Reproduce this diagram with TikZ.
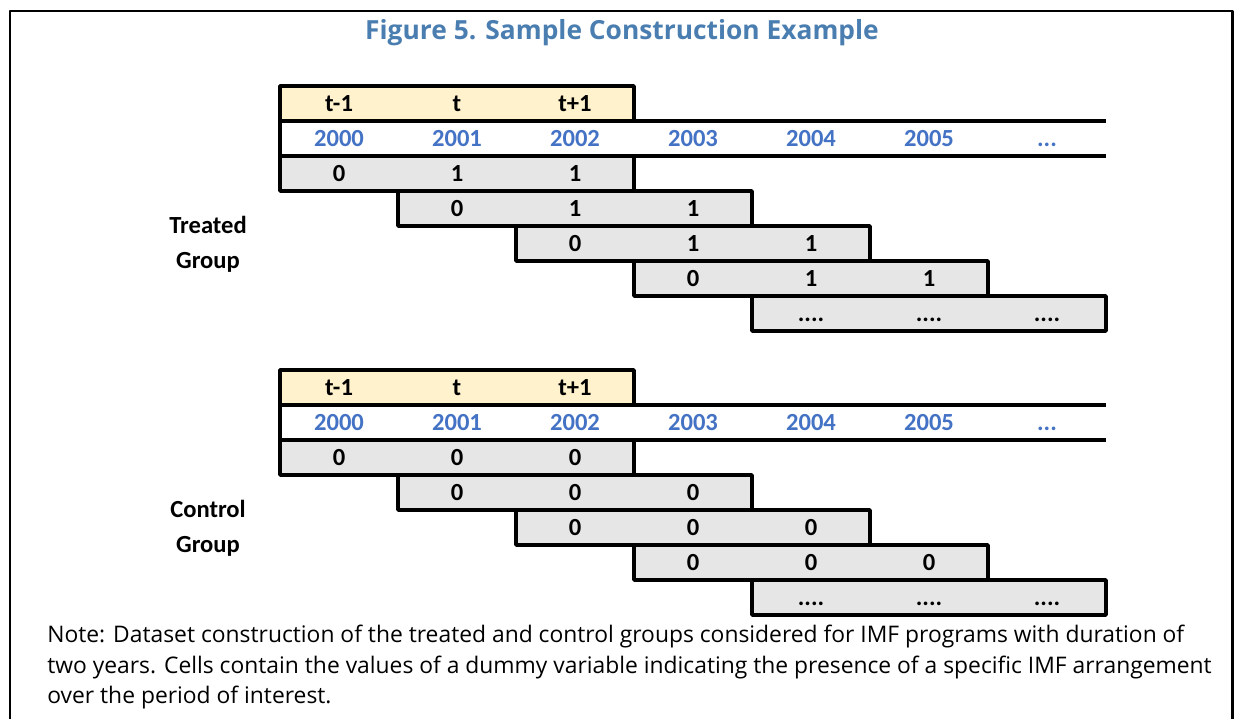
\documentclass[tikz,border=0pt]{standalone}
\usepackage{fontspec}
\setmainfont{Open Sans}
\newfontfamily\cellfont{Carlito}
\definecolor{titleblue}{RGB}{74,126,176}
\definecolor{yearblue}{RGB}{68,114,196}
\definecolor{headfill}{RGB}{255,242,204}
\definecolor{rowfill}{RGB}{230,230,230}
\tikzset{
  frame/.style={line width=1.7pt},
  rule/.style={line width=2pt},
  headbox/.style={draw,line width=2pt,fill=headfill},
  rowbox/.style={draw,line width=2pt,fill=rowfill},
  grouplabel/.style={font=\cellfont\bfseries\fontsize{14}{20}\selectfont,inner sep=0pt,align=center},
  cell/.style={grouplabel,text height=9.5pt,text depth=0.5pt},
  year/.style={cell,text=yearblue},
  title/.style={font=\bfseries\fontsize{15}{18}\selectfont,text=titleblue},
  note/.style={font=\fontsize{13}{17.3}\selectfont,align=left,inner sep=0pt}
}
\begin{document}
\begin{tikzpicture}[x=0.02cm,y=-0.02cm,line join=round]
  \useasboundingbox (0,0) rectangle (1235,719);
  \draw[frame] (10,719) -- (10,11) -- (1232,11) -- (1232,719);
  \node[title] (title) at (622,33) {Figure 5. Sample Construction Example};
  \foreach \tp/\g/\v/\name in {86/tr/1/Treated,370/co/0/Control} {
    \draw[headbox] (280,\tp) rectangle (634,\tp+35);
    \foreach \lab [count=\i] in {t-1,t,t+1}
      \node[cell] (\g-head-\i) at (221+118*\i,\tp+17.5) {\lab};
    \draw[rule] (1106,\tp+35) -- (280,\tp+35) -- (280,\tp+70) -- (1106,\tp+70);
    \foreach \yr [count=\i] in {2000,2001,2002,2003,2004,2005}
      \node[year] (\g-year-\i) at (221+118*\i,\tp+52.5) {\yr};
    \node[year] (\g-year-7) at (1047,\tp+52.5) {...};
    \foreach \r in {1,...,4} {
      \draw[rowbox] (162+118*\r,\tp+35+35*\r) rectangle +(354,35);
      \node[cell] (\g-\r-1) at (221+118*\r,\tp+52.5+35*\r) {0};
      \node[cell] (\g-\r-2) at (339+118*\r,\tp+52.5+35*\r) {\v};
      \node[cell] (\g-\r-3) at (457+118*\r,\tp+52.5+35*\r) {\v};
    }
    \draw[rowbox] (752,\tp+210) rectangle (1106,\tp+245);
    \foreach \c in {1,2,3}
      \node[cell] (\g-5-\c) at (693+118*\c,\tp+227.5) {....};
    \node[grouplabel] (\g-label) at (208,\tp+158) {\name\\Group};
  }
  \node[note,anchor=north west] (note) at (47,625) {Note: Dataset construction of the treated and control groups considered for IMF programs with duration of\\two years. Cells contain the values of a dummy variable indicating the presence of a specific IMF arrangement\\over the period of interest.};
\end{tikzpicture}
\end{document}
